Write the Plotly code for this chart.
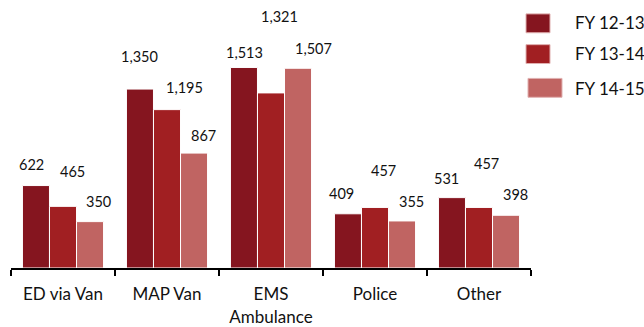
import plotly.graph_objects as go

categories = ["ED via Van", "MAP Van", "EMS<br>Ambulance", "Police", "Other"]
series_names = ["FY 12-13", "FY 13-14", "FY 14-15"]
fy_12_13 = [622, 1350, 1513, 409, 531]
fy_13_14 = [465, 1195, 1321, 457, 457]
fy_14_15 = [350, 867, 1507, 355, 398]
series_values = [fy_12_13, fy_13_14, fy_14_15]

colors = ["#85151F", "#A11F22", "#C06462"]
FONT = "Lato"

# label nudges in pixels (style only): horizontal shift, rise above bar top
label_dx = [[-4, 0, 1, -6, -5], [9, 17, 8, 8, 7], [8, 9, 15, 9, 9]]
label_dy = [[21, 33, 15, 20, 19], [35, 22, 76, 37, 44], [20, 18, 20, 19, 21]]

W, H = 644, 327
ML, MR, MT, MB = 11, 113, 0, 57
PW, PH = W - ML - MR, H - MT - MB

def px_x(px):
    return (px - ML) / PW

def px_y(py):
    return (H - MB - py) / PH

fig = go.Figure()
for name, vals, col in zip(series_names, series_values, colors):
    fig.add_trace(go.Bar(
        x=categories, y=vals, name=name,
        marker=dict(color=col, line=dict(color="white", width=1)),
        showlegend=False,
    ))

bargap = 0.22
slot = (1 - bargap) / 3
annotations = []
for s, vals in enumerate(series_values):
    for i, v in enumerate(vals):
        annotations.append(dict(
            x=i + (s - 1) * slot, y=v, xref="x", yref="y",
            text=f"{v:,}", showarrow=False,
            xanchor="center", yanchor="middle",
            xshift=label_dx[s][i], yshift=label_dy[s][i],
            font=dict(family=FONT, size=14.5, color="#111111"),
        ))

# legend drawn as layout items
legend_boxes = [(526, 550, 14, 33), (526, 550, 45, 64), (528, 562, 79, 98)]
legend_text_y = [23, 54, 89]
shapes = []
for (x0, x1, y0, y1), col, name, ty in zip(legend_boxes, colors, series_names, legend_text_y):
    shapes.append(dict(type="rect", xref="paper", yref="paper",
                       x0=px_x(x0), x1=px_x(x1), y0=px_y(y1), y1=px_y(y0),
                       fillcolor=col, line=dict(color="#E0B0B0", width=1)))
    annotations.append(dict(x=px_x(573), y=px_y(ty), xref="paper", yref="paper",
                            text=name, showarrow=False, xanchor="left", yanchor="middle",
                            font=dict(family=FONT, size=17, color="#111111")))

fig.update_layout(
    width=W, height=H,
    margin=dict(l=ML, r=MR, t=MT, b=MB, pad=0),
    paper_bgcolor="white", plot_bgcolor="white",
    barmode="group", bargap=bargap, bargroupgap=0,
    annotations=annotations, shapes=shapes,
    font=dict(family=FONT, color="#111111"),
    xaxis=dict(
        showline=True, linecolor="black", linewidth=2,
        ticks="outside", tickson="boundaries", ticklen=6,
        tickcolor="black", tickwidth=1.5,
        tickfont=dict(family=FONT, size=17, color="#111111"),
        ticklabelstandoff=10,
        showgrid=False, zeroline=False,
    ),
    yaxis=dict(visible=False, range=[0, 2022], showgrid=False, zeroline=False),
)

fig.write_html("out.html")
